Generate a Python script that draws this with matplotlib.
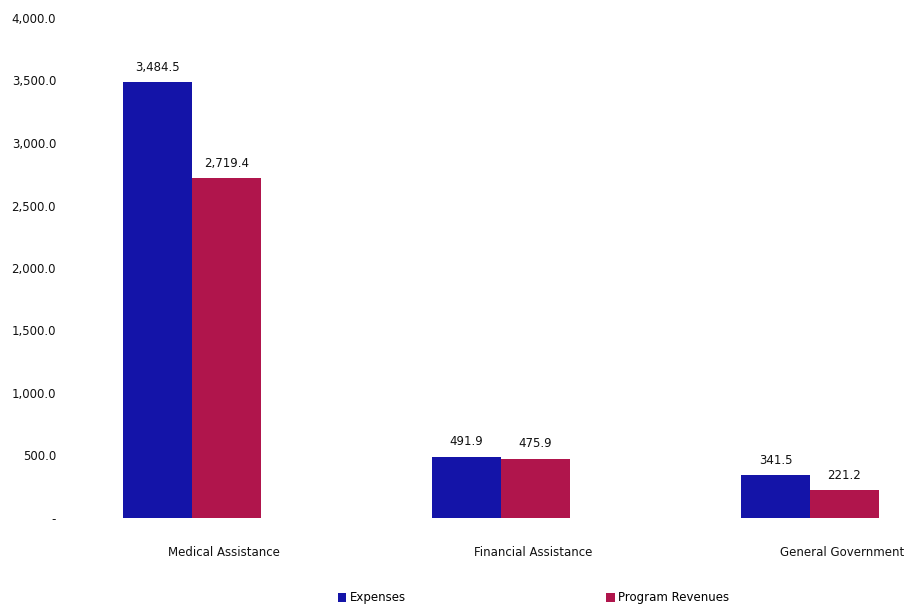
import matplotlib
matplotlib.use("Agg")
import matplotlib.pyplot as plt
import numpy as np

# Chart data
categories = ["Medical Assistance", "Financial Assistance", "General Government"]
expenses = [3484.5, 491.9, 341.5]
program_revenues = [2719.4, 475.9, 221.2]
series_names = ["Expenses", "Program Revenues"]
y_ticks = [0, 500, 1000, 1500, 2000, 2500, 3000, 3500, 4000]

BLUE = "#1414a8"
RED = "#b0154c"
FS = 8.5

fig = plt.figure(figsize=(9.09, 6.07), dpi=100)
# axes placed in pixel terms: left 70px, right 900px, bottom at y=518px, top at y=18px
W, H = 909, 607
ax = fig.add_axes([70 / W, (H - 518) / H, 830 / W, 500 / H])

x = np.arange(len(categories))
width = 0.223
b1 = ax.bar(x - width / 2, expenses, width, color=BLUE, label=series_names[0])
b2 = ax.bar(x + width / 2, program_revenues, width, color=RED, label=series_names[1])

for bars in (b1, b2):
    ax.bar_label(bars, labels=[f"{v:,.1f}" for v in bars.datavalues],
                 padding=6, fontsize=FS, color="#111111")

ax.set_ylim(0, 4000)
ax.set_xlim(-(192 - 70) / 309, -(192 - 70) / 309 + 830 / 309)
ax.set_yticks(y_ticks)
ax.set_yticklabels(["-" if t == 0 else f"{t:,.1f}" for t in y_ticks], fontsize=FS)
ax.set_xticks(x + 32 / 309)
ax.set_xticklabels(categories, fontsize=FS)
ax.tick_params(axis="both", length=0, colors="#111111")
ax.tick_params(axis="y", pad=10)
ax.tick_params(axis="x", pad=20)
for s in ax.spines.values():
    s.set_visible(False)

fig.legend(handles=[b1, b2], loc="center", bbox_to_anchor=(0.587, 1 - 598 / H),
           ncol=2, frameon=False, fontsize=FS, handlelength=0.7, handleheight=0.7,
           handletextpad=0.3, columnspacing=17.0)

fig.savefig("out.png", dpi=100)
